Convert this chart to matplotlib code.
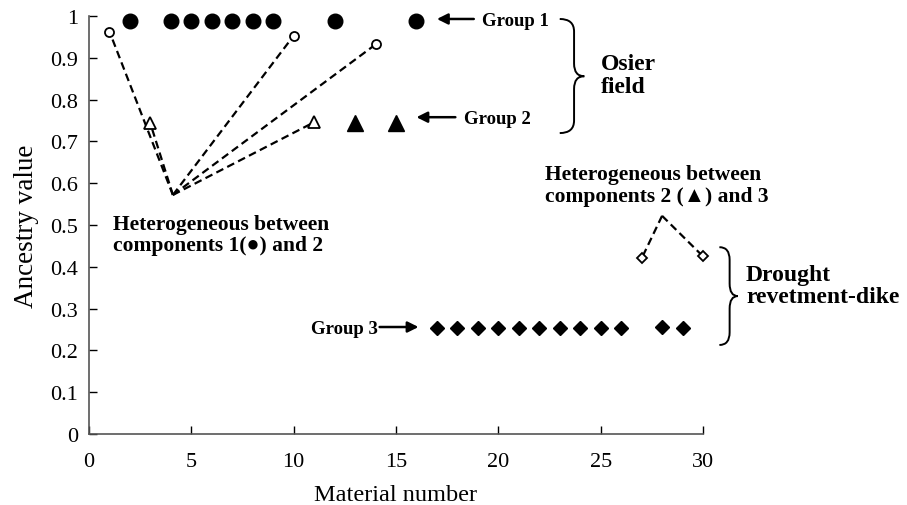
import numpy as np
import matplotlib
matplotlib.use("Agg")
import matplotlib.pyplot as plt
from matplotlib.path import Path
from matplotlib.patches import PathPatch

plt.rcParams['font.family'] = ['Liberation Serif', 'DejaVu Serif']

# group 1 (filled circles)
g1_x = [2, 4, 5, 6, 7, 8, 9, 12, 16]
g1_y = [0.988, 0.988, 0.988, 0.988, 0.987, 0.988, 0.987, 0.988, 0.988]
# heterogeneous 1/2 (open circles, open triangles)
oc_x = [1, 10, 14]
oc_y = [0.963, 0.953, 0.932]
ot_x = [3, 11]
ot_y = [0.743, 0.746]
# group 2 (filled triangles)
g2_x = [13, 15]
g2_y = [0.745, 0.745]
# group 3 (filled diamonds)
g3_x = [17, 18, 19, 20, 21, 22, 23, 24, 25, 26, 28, 29]
g3_y = [0.253, 0.253, 0.253, 0.253, 0.253, 0.253, 0.253, 0.253, 0.253, 0.253, 0.255, 0.253]
# heterogeneous 2/3 (open diamonds)
od_x = [27, 30]
od_y = [0.42, 0.425]

# where the dashed connectors meet
v1 = (4.1, 0.572)
v2 = (28, 0.522)

x_ticks = [0, 5, 10, 15, 20, 25, 30]
y_ticks = [0, 0.1, 0.2, 0.3, 0.4, 0.5, 0.6, 0.7, 0.8, 0.9, 1]
y_labels = ['0', '0.1', '0.2', '0.3', '0.4', '0.5', '0.6', '0.7', '0.8', '0.9', '1']


def brace(ax, x0, xv, xtip, ytop, ybot, ymid, r):
    verts = [(x0, ytop), (xv, ytop), (xv, ytop - r),
             (xv, ymid + r), (xv, ymid), (xtip, ymid),
             (xv, ymid), (xv, ymid - r),
             (xv, ybot + r), (xv, ybot), (x0, ybot)]
    codes = [Path.MOVETO, Path.CURVE3, Path.CURVE3,
             Path.LINETO, Path.CURVE3, Path.CURVE3,
             Path.CURVE3, Path.CURVE3,
             Path.LINETO, Path.CURVE3, Path.CURVE3]
    p = PathPatch(Path(verts, codes), fill=False, lw=1.4, color='black', clip_on=False)
    ax.add_patch(p)


fig = plt.figure(figsize=(9.07, 5.06), dpi=100)
ax = fig.add_axes([0.0981, 0.1403, 0.677, 0.826])

dash = (0, (3.5, 2))
# dashed connectors
for px, py in zip(oc_x + ot_x, oc_y + ot_y):
    ax.plot([v1[0], px], [v1[1], py], ls=dash, color='black', lw=1.6, zorder=1)
for px, py in zip(od_x, od_y):
    ax.plot([v2[0], px], [v2[1], py], ls=dash, color='black', lw=1.6, zorder=1, clip_on=False)

ax.plot(g1_x, g1_y, 'o', color='black', ms=10.5, ls='none', zorder=3, clip_on=False)
ax.plot(oc_x, oc_y, 'o', mfc='white', mec='black', mew=1.3, ms=6.5, ls='none', zorder=3)
ax.plot(ot_x, ot_y, '^', mfc='white', mec='black', mew=1.3, ms=9, ls='none', zorder=3)
ax.plot(g2_x, g2_y, '^', color='black', ms=12, ls='none', zorder=3)
ax.plot(g3_x, g3_y, 'D', color='black', ms=7.6, ls='none', zorder=3)
ax.plot(od_x, od_y, 'D', mfc='white', mec='black', mew=1.3, ms=5.5, ls='none', zorder=3,
        clip_on=False)

ax.set_xlim(0, 30)
ax.set_ylim(0, 1)
ax.set_xticks(x_ticks)
ax.set_yticks(y_ticks)
ax.set_yticklabels(y_labels)
ax.tick_params(direction='in', length=6, width=1, labelsize=16, pad=8)
ax.tick_params(axis='x', pad=13)
ax.spines['top'].set_visible(False)
ax.spines['right'].set_visible(False)
for s in ['left', 'bottom']:
    ax.spines[s].set_color('#555555')
    ax.spines[s].set_linewidth(1.2)
ax.set_xlabel('Material number', fontsize=17.5, va='baseline')
ax.xaxis.set_label_coords(0.5, -0.157)
ax.set_ylabel('Ancestry value', fontsize=19.5)
ax.yaxis.set_label_coords(-0.082, 0.5)

bold = dict(fontweight='bold', color='black')
ax.text(1.17, 0.477, 'Heterogeneous between\ncomponents 1(\u25cf) and 2', fontsize=15.5,
        va='center', ha='left', linespacing=1.1, **bold)
ax.text(22.3, 0.596, 'Heterogeneous between\ncomponents 2 (\u25b2) and 3', fontsize=15.5,
        va='center', ha='left', linespacing=1.1, clip_on=False,
        family=['Liberation Serif', 'DejaVu Sans'], **bold)

arrow = dict(arrowstyle='-|>', color='black', lw=1.8, mutation_scale=16, shrinkA=0, shrinkB=0)
ax.annotate('', xy=(17.0, 0.993), xytext=(18.8, 0.993), arrowprops=arrow)
ax.text(19.2, 0.99, 'Group 1', fontsize=13.5, va='center', ha='left', **bold)
ax.annotate('', xy=(16.0, 0.758), xytext=(17.9, 0.758), arrowprops=arrow)
ax.text(18.3, 0.756, 'Group 2', fontsize=13.5, va='center', ha='left', **bold)
ax.annotate('', xy=(16.1, 0.256), xytext=(14.2, 0.256), arrowprops=arrow)
ax.text(14.1, 0.253, 'Group 3', fontsize=13.5, va='center', ha='right', **bold)

brace(ax, 23.0, 23.7, 24.2, 0.993, 0.72, 0.856, 0.03)
ax.text(25.0, 0.859, 'Osier\nfield', fontsize=17, va='center', ha='left',
        linespacing=1.1, clip_on=False, **bold)
brace(ax, 30.8, 31.3, 31.7, 0.447, 0.213, 0.33, 0.03)
ax.text(32.1, 0.355, 'Drought\nrevetment-dike', fontsize=17, va='center', ha='left',
        linespacing=1.05, clip_on=False, **bold)

fig.savefig('out.png', dpi=100)
